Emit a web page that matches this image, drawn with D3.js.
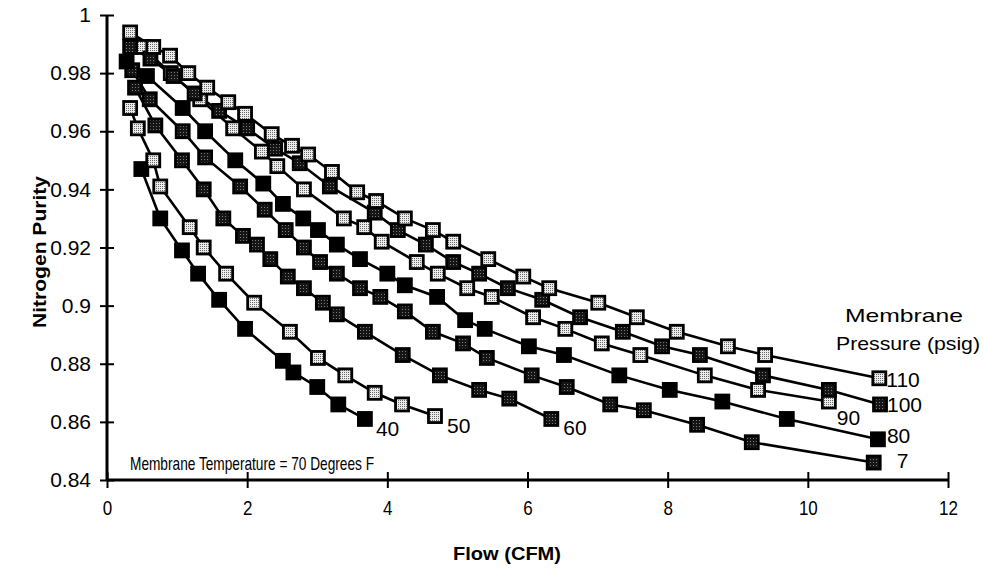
<!DOCTYPE html>
<html><head><meta charset="utf-8">
<script src="https://cdn.jsdelivr.net/npm/d3@7/dist/d3.min.js"></script>
<style>body{margin:0;background:#fff}svg{display:block}</style>
</head><body>
<svg id="chart" width="983" height="573"></svg>
<script>
// ---- data ----
const seriesNames = ["40","50","60","7","80","90","100","110"];
const xTicks = [0,2,4,6,8,10,12];
const xTickLabels = ["0","2","4","6","8","10","12"];
const yTicks = [0.84,0.86,0.88,0.90,0.92,0.94,0.96,0.98,1.00];
const yTickLabels = ["0.84","0.86","0.88","0.9","0.92","0.94","0.96","0.98","1"];

const p40 = [[0.49,0.947],[0.76,0.930],[1.07,0.919],[1.30,0.911],[1.60,0.902],[1.97,0.892],[2.51,0.881],[2.66,0.877],[3.00,0.872],[3.30,0.866],[3.68,0.861]];
const p50 = [[0.33,0.968],[0.44,0.961],[0.66,0.950],[0.76,0.941],[1.18,0.927],[1.38,0.920],[1.70,0.911],[2.10,0.901],[2.61,0.891],[3.01,0.882],[3.40,0.876],[3.82,0.870],[4.21,0.866],[4.68,0.862]];
const p60 = [[0.40,0.975],[0.69,0.962],[1.07,0.950],[1.38,0.940],[1.66,0.930],[1.94,0.924],[2.14,0.921],[2.33,0.916],[2.58,0.910],[2.81,0.906],[3.08,0.901],[3.28,0.897],[3.68,0.891],[4.22,0.883],[4.75,0.876],[5.31,0.871],[5.74,0.868],[6.34,0.861]];
const p70 = [[0.36,0.981],[0.61,0.971],[1.08,0.960],[1.40,0.951],[1.90,0.941],[2.25,0.933],[2.55,0.926],[2.81,0.920],[3.04,0.915],[3.28,0.911],[3.61,0.906],[3.90,0.903],[4.25,0.898],[4.65,0.891],[5.08,0.887],[5.42,0.882],[6.06,0.876],[6.56,0.872],[7.18,0.866],[7.66,0.864],[8.42,0.859],[9.20,0.853],[10.94,0.846]];
const p80 = [[0.28,0.984],[0.57,0.979],[1.08,0.968],[1.40,0.960],[1.83,0.950],[2.23,0.942],[2.51,0.935],[2.80,0.930],[3.01,0.926],[3.28,0.921],[3.61,0.916],[4.00,0.911],[4.25,0.907],[4.71,0.903],[5.11,0.895],[5.39,0.892],[6.02,0.886],[6.52,0.883],[7.31,0.876],[8.03,0.871],[8.78,0.867],[9.70,0.861],[11.00,0.854]];
const p90 = [[0.50,0.989],[0.91,0.980],[1.33,0.971],[1.80,0.961],[2.21,0.953],[2.43,0.948],[2.81,0.940],[3.38,0.930],[3.67,0.927],[3.92,0.922],[4.42,0.915],[4.72,0.911],[5.14,0.906],[5.49,0.903],[6.08,0.896],[6.54,0.892],[7.06,0.887],[7.61,0.883],[8.53,0.876],[9.29,0.871],[10.30,0.867]];
const p100 = [[0.33,0.989],[0.62,0.985],[0.95,0.979],[1.25,0.973],[1.60,0.967],[2.00,0.961],[2.40,0.954],[2.75,0.949],[3.18,0.941],[3.82,0.932],[4.15,0.926],[4.55,0.921],[4.94,0.915],[5.31,0.911],[5.72,0.906],[6.21,0.902],[6.75,0.896],[7.36,0.891],[7.92,0.886],[8.46,0.883],[9.36,0.876],[10.30,0.871],[11.03,0.866]];
const p110 = [[0.33,0.994],[0.66,0.989],[0.90,0.986],[1.16,0.980],[1.43,0.975],[1.73,0.970],[1.97,0.966],[2.35,0.959],[2.64,0.955],[2.87,0.952],[3.21,0.946],[3.57,0.939],[3.84,0.936],[4.25,0.930],[4.65,0.926],[4.94,0.922],[5.44,0.916],[5.94,0.910],[6.31,0.906],[7.01,0.901],[7.56,0.896],[8.13,0.891],[8.86,0.886],[9.39,0.883],[11.02,0.875]];
const seriesPoints = [p40,p50,p60,p70,p80,p90,p100,p110];

// ---- style ----
const markerFill = ["url(#blackFill)","url(#lightPat)","url(#darkPat)","url(#darkPat)","url(#blackFill)","url(#lightPat)","url(#darkPat)","url(#lightPat)"];
const labelOffset = [[11,17],[12,17],[12,16],[23,5],[9,4],[8,23],[7,8],[7,9]];
const FONT = "'Liberation Sans', Arial, sans-serif";

const svg = d3.select("#chart");
const defs = svg.append("defs");
const lp = defs.append("pattern").attr("id","lightPat").attr("width",2).attr("height",2).attr("patternUnits","userSpaceOnUse");
lp.append("rect").attr("width",2).attr("height",2).attr("fill","#ececec");
lp.append("rect").attr("width",1).attr("height",1).attr("fill","#6a6a6a");
const dp = defs.append("pattern").attr("id","darkPat").attr("width",3).attr("height",3).attr("patternUnits","userSpaceOnUse");
dp.append("rect").attr("width",3).attr("height",3).attr("fill","#151515");
dp.append("rect").attr("width",1).attr("height",1).attr("fill","#7a7a7a");
const bp = defs.append("pattern").attr("id","blackFill").attr("width",2).attr("height",2).attr("patternUnits","userSpaceOnUse");
bp.append("rect").attr("width",2).attr("height",2).attr("fill","#000");

const x = d3.scaleLinear().domain([0,12]).range([107,948]);
const y = d3.scaleLinear().domain([0.84,1]).range([480,15]);

// axes
const yAxis = svg.append("g").attr("transform","translate(107,0)")
  .call(d3.axisLeft(y).tickValues(yTicks).tickFormat((d,i)=>yTickLabels[i]).tickSize(6).tickPadding(10));
yAxis.select(".domain").attr("stroke","#000").attr("stroke-width",3).attr("d",`M0,${y(1)}V${y(0.84)}`);
yAxis.selectAll(".tick line").attr("x1",-7).attr("x2",7).attr("stroke-width",2);
yAxis.selectAll(".tick text").attr("font-family",FONT).attr("font-size",21).attr("fill","#000");

const xAxis = svg.append("g").attr("transform","translate(0,480)")
  .call(d3.axisBottom(x).tickValues(xTicks).tickFormat((d,i)=>xTickLabels[i]).tickSize(6).tickPadding(15));
xAxis.select(".domain").attr("stroke","#000").attr("stroke-width",3).attr("d",`M${x(0)},0H${x(12)}`);
xAxis.selectAll(".tick line").attr("y1",-8).attr("y2",8).attr("stroke-width",2);
xAxis.selectAll(".tick text").attr("font-family",FONT).attr("font-size",20).attr("fill","#000")
  .attr("transform","scale(0.85,1)");

// lines
const line = d3.line().x(d=>x(d[0])).y(d=>y(d[1]));
svg.append("g").selectAll("path").data(seriesPoints).join("path")
  .attr("d",line).attr("fill","none").attr("stroke","#000").attr("stroke-width",2.6);

// markers
seriesPoints.forEach((pts,si)=>{
  svg.append("g").selectAll("rect").data(pts).join("rect")
    .attr("x",d=>x(d[0])-6.5).attr("y",d=>y(d[1])-6.5)
    .attr("width",13).attr("height",13)
    .attr("fill",markerFill[si]).attr("stroke","#000").attr("stroke-width",2.8);
});

// series labels
seriesPoints.forEach((pts,si)=>{
  const last = pts[pts.length-1];
  svg.append("text").attr("x",x(last[0])+labelOffset[si][0]).attr("y",y(last[1])+labelOffset[si][1])
    .attr("font-family",FONT).attr("font-size",21).attr("fill","#000").text(seriesNames[si]);
});

// annotations
svg.append("text").attr("x",130).attr("y",470).attr("font-family",FONT).attr("font-size",19)
  .attr("textLength",244).attr("lengthAdjust","spacingAndGlyphs").text("Membrane Temperature =  70 Degrees F");
svg.append("text").attr("x",845).attr("y",322).attr("font-family",FONT).attr("font-size",19)
  .attr("textLength",118).attr("lengthAdjust","spacingAndGlyphs").text("Membrane");
svg.append("text").attr("x",836).attr("y",350).attr("font-family",FONT).attr("font-size",19)
  .attr("textLength",144).attr("lengthAdjust","spacingAndGlyphs").text("Pressure (psig)");

// axis titles
svg.append("text").attr("transform","translate(46,252) rotate(-90)").attr("text-anchor","middle")
  .attr("font-family",FONT).attr("font-weight","bold").attr("font-size",19)
  .attr("textLength",152).attr("lengthAdjust","spacingAndGlyphs").text("Nitrogen Purity");
svg.append("text").attr("x",507).attr("y",560).attr("text-anchor","middle")
  .attr("font-family",FONT).attr("font-weight","bold").attr("font-size",19)
  .attr("textLength",108).attr("lengthAdjust","spacingAndGlyphs").text("Flow (CFM)");
</script>
</body></html>
